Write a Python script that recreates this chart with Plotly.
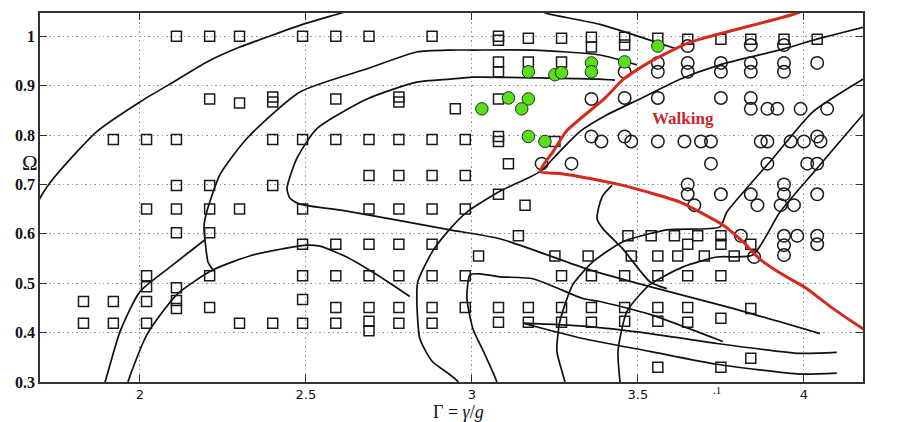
import plotly.graph_objects as go

# ---------------- data ----------------
square_x = [2.11, 2.21, 2.30, 2.49, 2.59, 2.69, 2.88, 3.08, 3.08, 3.17, 3.27, 3.36, 3.36, 3.46, 3.46, 3.56, 3.65, 3.75, 3.84, 3.94, 4.04,
            3.08, 3.08, 3.17, 3.27,
            2.21, 2.30, 2.40, 2.40, 2.59, 2.78, 2.78, 2.95, 3.08,
            1.92, 2.02, 2.11, 2.40, 2.49, 2.59, 2.69, 2.78, 2.88, 2.98, 3.08, 3.08, 3.25,
            2.69, 2.78, 2.88, 2.98, 3.11,
            2.11, 2.21, 2.40, 3.08, 3.16,
            2.02, 2.11, 2.21, 2.30, 2.49, 2.69, 2.78, 2.88, 2.98,
            2.11, 2.21, 2.49, 2.59, 2.69, 2.78, 2.88, 3.14, 3.02, 3.25, 3.35,
            3.47, 3.54, 3.61, 3.68, 3.75, 3.65, 3.75, 3.84, 3.48, 3.56, 3.62, 3.70, 3.79,
            2.02, 2.21, 2.49, 2.59, 2.69, 2.78, 2.88, 2.98, 3.27, 3.36, 3.46, 3.56, 3.65, 3.75,
            2.02, 2.11, 2.49,
            1.83, 1.92, 2.02, 2.11, 2.11, 2.21, 2.59, 2.69, 2.78, 2.88, 2.98, 3.08, 3.17, 3.27, 3.36, 3.46, 3.56, 3.65, 3.84,
            1.83, 1.92, 2.02, 2.30, 2.40, 2.49, 2.59, 2.69, 2.69, 2.78, 2.88, 3.08, 3.17, 3.27, 3.36, 3.46, 3.56, 3.65, 3.75,
            3.84, 3.56, 3.75]
square_y = [1.000, 1.000, 1.000, 1.000, 1.000, 1.000, 1.000, 1.000, 0.992, 0.996, 0.996, 0.998, 0.978, 0.998, 0.982, 0.996, 0.994, 0.994, 0.994, 0.994, 0.994,
            0.948, 0.928, 0.948, 0.948,
            0.873, 0.865, 0.877, 0.867, 0.873, 0.877, 0.867, 0.853, 0.873,
            0.791, 0.791, 0.791, 0.791, 0.791, 0.791, 0.791, 0.791, 0.791, 0.791, 0.797, 0.787, 0.787,
            0.718, 0.718, 0.718, 0.718, 0.742,
            0.698, 0.698, 0.698, 0.680, 0.658,
            0.650, 0.650, 0.650, 0.650, 0.650, 0.650, 0.650, 0.650, 0.650,
            0.602, 0.602, 0.579, 0.579, 0.579, 0.579, 0.579, 0.596, 0.555, 0.555, 0.555,
            0.596, 0.596, 0.596, 0.596, 0.596, 0.579, 0.579, 0.579, 0.555, 0.555, 0.555, 0.555, 0.555,
            0.515, 0.515, 0.515, 0.515, 0.515, 0.515, 0.515, 0.515, 0.515, 0.515, 0.515, 0.515, 0.515, 0.515,
            0.493, 0.491, 0.467,
            0.463, 0.463, 0.463, 0.465, 0.449, 0.451, 0.451, 0.451, 0.451, 0.451, 0.451, 0.451, 0.451, 0.451, 0.451, 0.451, 0.451, 0.451, 0.449,
            0.419, 0.419, 0.419, 0.419, 0.419, 0.419, 0.419, 0.423, 0.404, 0.419, 0.419, 0.421, 0.421, 0.421, 0.421, 0.423, 0.423, 0.421, 0.429,
            0.348, 0.330, 0.330]

circle_x = [3.65, 3.84, 3.94,
            3.46, 3.56, 3.56, 3.65, 3.65, 3.75, 3.75, 3.84, 3.84, 3.94, 3.94, 4.04,
            3.36, 3.46, 3.56, 3.75, 3.84, 3.84, 3.89, 3.92, 3.99, 4.07,
            3.36, 3.39, 3.46, 3.48, 3.56, 3.64, 3.69, 3.72, 3.87, 3.89, 3.96, 4.00, 4.04, 4.05,
            3.21, 3.30, 3.72, 3.89, 4.01, 4.04,
            3.65, 3.65, 3.67, 3.75, 3.84, 3.86, 3.94, 3.94, 3.93, 3.97, 4.04,
            3.81, 3.94, 3.98, 4.04, 3.94, 4.04, 3.94, 3.85]
circle_y = [0.980, 0.982, 0.982,
            0.928, 0.946, 0.928, 0.946, 0.928, 0.946, 0.928, 0.946, 0.928, 0.946, 0.928, 0.946,
            0.873, 0.875, 0.875, 0.875, 0.875, 0.853, 0.853, 0.853, 0.853, 0.853,
            0.797, 0.787, 0.797, 0.787, 0.787, 0.787, 0.787, 0.787, 0.787, 0.787, 0.787, 0.787, 0.797, 0.787,
            0.742, 0.742, 0.742, 0.742, 0.742, 0.742,
            0.700, 0.680, 0.658, 0.680, 0.680, 0.658, 0.700, 0.680, 0.658, 0.658, 0.680,
            0.596, 0.596, 0.596, 0.596, 0.577, 0.579, 0.557, 0.553]

green_x = [3.17, 3.25, 3.27, 3.36, 3.36, 3.46, 3.56, 3.03, 3.11, 3.17, 3.15, 3.17, 3.22]
green_y = [0.928, 0.922, 0.926, 0.946, 0.928, 0.948, 0.980, 0.853, 0.875, 0.873, 0.853, 0.797, 0.787]

# black boundary curves
curve_a_x = [1.68, 1.699, 1.744, 1.870, 2.000, 2.090, 2.202, 2.301, 2.500, 2.602, 2.65]
curve_a_y = [0.63, 0.672, 0.716, 0.807, 0.867, 0.903, 0.948, 0.978, 1.026, 1.046, 1.056]

curve_c_x = [3.497, 3.386, 3.184, 3.003, 2.934, 2.834, 2.684, 2.482, 2.322, 2.241, 2.202, 2.193, 2.196, 2.205, 2.220]
curve_c_y = [0.942, 0.962, 0.972, 0.972, 0.972, 0.968, 0.934, 0.887, 0.793, 0.720, 0.646, 0.616, 0.588, 0.543, 0.527]

curve_b_x = [1.88, 1.895, 1.940, 2.000, 2.099, 2.196]
curve_b_y = [0.27, 0.300, 0.402, 0.483, 0.537, 0.588]

curve_h_x = [1.955, 1.964, 2.021, 2.111, 2.220, 2.340, 2.500, 2.542, 2.623, 2.714, 2.813]
curve_h_y = [0.27, 0.300, 0.396, 0.477, 0.527, 0.557, 0.577, 0.575, 0.553, 0.517, 0.473]

curve_d_x = [3.431, 3.386, 3.003, 2.934, 2.834, 2.684, 2.533, 2.473, 2.443, 2.452, 2.482, 2.623, 2.934, 3.084, 3.355, 3.536, 3.786, 4.048]
curve_d_y = [0.911, 0.913, 0.917, 0.913, 0.907, 0.873, 0.813, 0.753, 0.692, 0.672, 0.660, 0.646, 0.608, 0.590, 0.527, 0.493, 0.449, 0.398]

curve_e_x = [2.95, 2.958, 2.880, 2.843, 2.834, 2.837, 2.880, 2.934, 2.985, 3.084, 3.205, 3.265, 3.325, 3.407, 3.506, 3.627, 3.747, 3.937, 4.039, 4.178, 4.25]
curve_e_y = [0.27, 0.300, 0.342, 0.388, 0.469, 0.503, 0.563, 0.610, 0.644, 0.686, 0.726, 0.767, 0.807, 0.841, 0.873, 0.913, 0.942, 0.974, 0.994, 1.018, 1.03]

curve_j_x = [3.08, 3.075, 3.039, 3.003, 2.985, 2.994, 3.024, 3.084, 3.184, 3.334, 3.386, 3.536, 3.756]
curve_j_y = [0.27, 0.300, 0.356, 0.408, 0.469, 0.517, 0.519, 0.513, 0.509, 0.469, 0.463, 0.437, 0.382]

curve_l1_x = [4.099, 3.988, 3.738, 3.536, 3.334, 3.154]
curve_l1_y = [0.360, 0.358, 0.378, 0.398, 0.413, 0.419]
curve_l2_x = [3.154, 3.334, 3.536, 3.738, 3.988, 4.099]
curve_l2_y = [0.419, 0.388, 0.362, 0.336, 0.316, 0.318]

curve_m_x = [3.422, 3.395, 3.380, 3.377, 3.395, 3.455, 3.536, 3.587]
curve_m_y = [0.698, 0.678, 0.648, 0.630, 0.610, 0.569, 0.503, 0.489]

curve_n_x = [3.285, 3.280, 3.256, 3.265, 3.304, 3.364, 3.455, 3.587, 3.747, 3.768, 3.907, 4.027, 4.178, 4.25]
curve_n_y = [0.27, 0.300, 0.362, 0.423, 0.497, 0.543, 0.584, 0.608, 0.614, 0.644, 0.753, 0.847, 0.913, 0.94]

curve_o_x = [3.45, 3.446, 3.440, 3.467, 3.536, 3.636, 3.738, 3.846, 3.928, 4.039, 4.178, 4.25]
curve_o_y = [0.27, 0.300, 0.362, 0.443, 0.497, 0.533, 0.553, 0.557, 0.644, 0.732, 0.841, 0.89]

curve_r_x = [3.19, 3.226, 3.386, 3.617]
curve_r_y = [1.056, 1.046, 1.024, 0.974]

# red "walking" boundary
red_x = [4.00, 3.967, 3.687, 3.636, 3.536, 3.458, 3.398, 3.286, 3.245, 3.205,
         3.265, 3.355, 3.467, 3.627, 3.756, 3.816, 3.867, 3.937, 4.009, 4.087, 4.178, 4.25]
red_y = [1.052, 1.044, 0.994, 0.982, 0.948, 0.914, 0.873, 0.809, 0.767, 0.726,
         0.722, 0.712, 0.696, 0.664, 0.618, 0.584, 0.549, 0.517, 0.489, 0.449, 0.408, 0.38]

x_ticks = [2, 2.5, 3, 3.5, 4]
x_tick_text = ["2", "2.5", "3", "3.5", "4"]
y_ticks = [0.3, 0.4, 0.5, 0.6, 0.7, 0.8, 0.9, 1.0]
y_tick_text = ["0.3", "0.4", "0.5", "0.6", "0.7", "0.8", "0.9", "1"]

# ---------------- figure ----------------
fig = go.Figure()

black_curves = [
    (curve_a_x, curve_a_y), (curve_c_x, curve_c_y), (curve_b_x, curve_b_y),
    (curve_h_x, curve_h_y), (curve_d_x, curve_d_y), (curve_e_x, curve_e_y),
    (curve_j_x, curve_j_y), (curve_l1_x + curve_l2_x, curve_l1_y + curve_l2_y),
    (curve_m_x, curve_m_y), (curve_n_x, curve_n_y), (curve_o_x, curve_o_y),
    (curve_r_x, curve_r_y),
]
for cx, cy in black_curves:
    fig.add_trace(go.Scatter(x=cx, y=cy, mode="lines",
                             line=dict(color="#111111", width=1.7, shape="spline", smoothing=0.6),
                             hoverinfo="skip", showlegend=False))

fig.add_trace(go.Scatter(x=square_x, y=square_y, mode="markers",
                         marker=dict(symbol="square-open", size=10, color="#1a1a1a", line=dict(width=1.5)),
                         showlegend=False))
fig.add_trace(go.Scatter(x=circle_x, y=circle_y, mode="markers",
                         marker=dict(symbol="circle-open", size=12.5, color="#1a1a1a", line=dict(width=1.5)),
                         showlegend=False))
fig.add_trace(go.Scatter(x=green_x, y=green_y, mode="markers",
                         marker=dict(symbol="circle", size=12.5, color="#55e018", line=dict(color="#2a2a2a", width=1)),
                         showlegend=False))
fig.add_trace(go.Scatter(x=red_x, y=red_y, mode="lines",
                         line=dict(color="#d42a20", width=3, shape="spline", smoothing=0.5),
                         hoverinfo="skip", showlegend=False))

axis_common = dict(showline=True, linecolor="#333333", linewidth=1.5, mirror="ticks",
                   ticks="inside", ticklen=7, tickcolor="#333333",
                   showgrid=True, gridcolor="#8f96a0", griddash="1.5px,3px", gridwidth=1, zeroline=False)

fig.update_xaxes(range=[1.699, 4.178], tickvals=x_ticks, ticktext=x_tick_text,
                 tickfont=dict(family="DejaVu Sans", size=13, color="#111111"), **axis_common)
fig.update_yaxes(range=[0.3, 1.047], tickvals=y_ticks, ticktext=y_tick_text,
                 tickfont=dict(family="Liberation Serif", size=16, color="#111111", weight="bold"),
                 **axis_common)

fig.add_annotation(x=3.636, y=0.833, xref="x", yref="y", text="<b>Walking</b>", showarrow=False,
                   font=dict(family="Liberation Serif", size=17, color="#c8282a"))
fig.add_annotation(x=-0.0245, y=0.593, xref="paper", yref="paper", text="Ω", showarrow=False,
                   font=dict(family="Liberation Serif", size=21, color="#111111"))
fig.add_annotation(x=0.509, y=-0.05, xref="paper", yref="paper", yanchor="top",
                   text="Γ = <i>γ</i>/<i>g</i>", showarrow=False,
                   font=dict(family="Liberation Serif", size=18, color="#111111"))
fig.add_annotation(x=3.738, y=-0.022, xref="x", yref="paper", yanchor="middle", text=".1", showarrow=False,
                   font=dict(family="Liberation Serif", size=11, color="#111111"))

fig.update_layout(width=900, height=422, margin=dict(l=40, r=37, t=11, b=40),
                  paper_bgcolor="white", plot_bgcolor="white")

fig.write_html("out.html")
